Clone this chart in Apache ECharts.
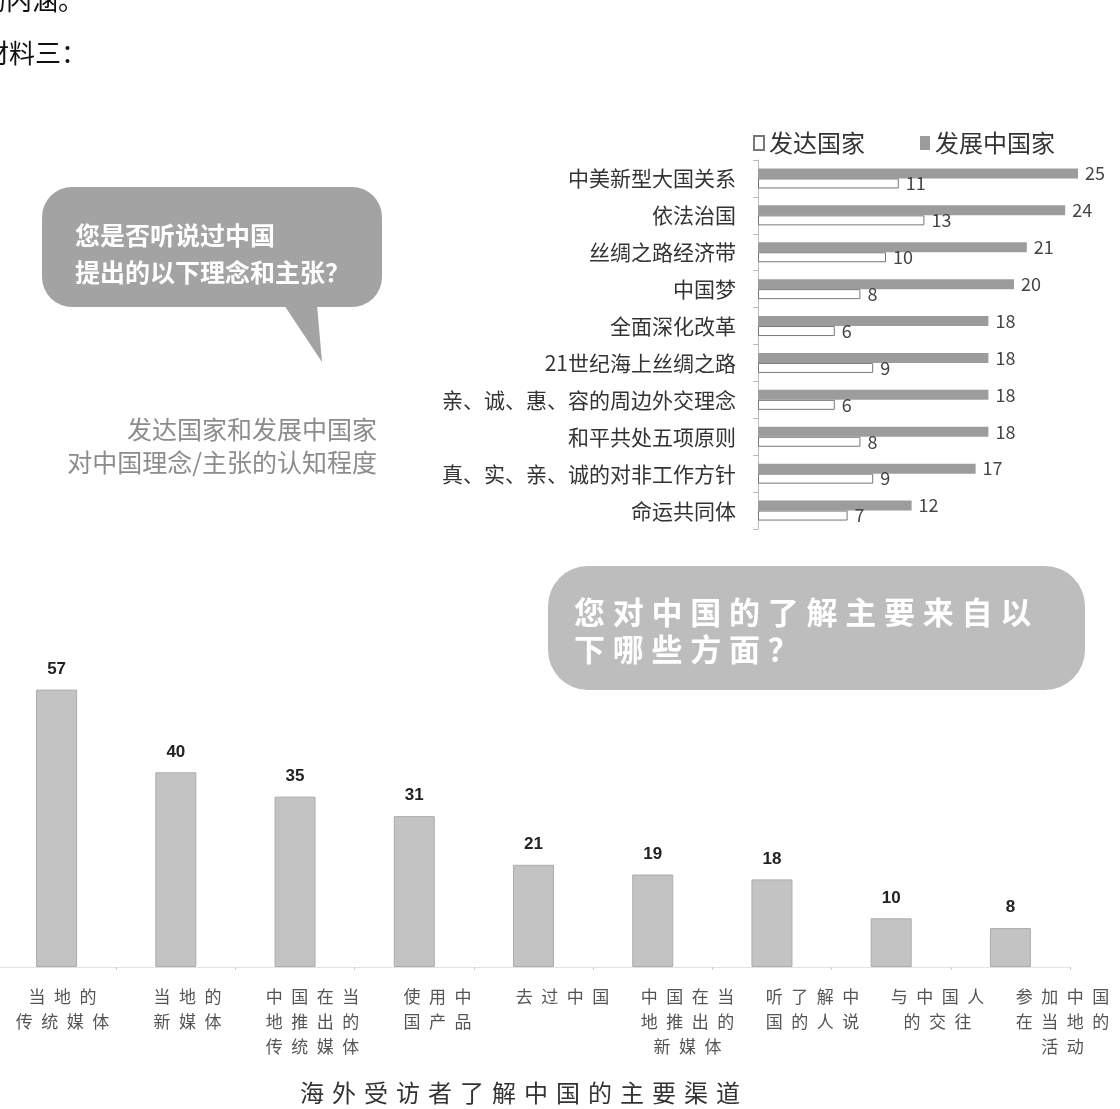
<!DOCTYPE html>
<html>
<head>
<meta charset="utf-8">
<script src="https://cdn.jsdelivr.net/npm/echarts@6/dist/echarts.min.js"></script>
<style>
  html, body { margin: 0; padding: 0; background: #fff; }
  #chart { width: 1120px; height: 1109px; }
</style>
</head>
<body>
<div id="chart"></div>
<script>
// 上图：对中国理念/主张的认知程度
const ideaCats = ['中美新型大国关系', '依法治国', '丝绸之路经济带', '中国梦', '全面深化改革',
    '21世纪海上丝绸之路', '亲、诚、惠、容的周边外交理念', '和平共处五项原则',
    '真、实、亲、诚的对非工作方针', '命运共同体'];
const developed = [11, 13, 10, 8, 6, 9, 6, 8, 9, 7];
const developing = [25, 24, 21, 20, 18, 18, 18, 18, 17, 12];

// 下图：了解中国的主要渠道
const channelCats = ['当地的\n传统媒体', '当地的\n新媒体', '中国在当\n地推出的\n传统媒体', '使用中\n国产品',
    '去过中国', '中国在当\n地推出的\n新媒体', '听了解中\n国的人说', '与中国人\n的交往', '参加中国\n在当地的\n活动'];
const channelVals = [57, 40, 35, 31, 21, 19, 18, 10, 8];

const CJK = '"Noto Sans CJK SC", sans-serif';

// 字间距：在字符之间插入窄空格
const spaced = (s, sp) => s.split('\n').map(l => Array.from(l).join(sp)).join('\n');

const chart = echarts.init(document.getElementById('chart'));

const option = {
    animation: false,
    textStyle: { fontFamily: CJK },
    legend: {
        data: ['发达国家', '发展中国家'],
        left: 748,
        top: 126,
        icon: 'rect',
        itemWidth: 10,
        itemHeight: 14,
        itemGap: 55,
        textStyle: { fontSize: 24, color: '#333', fontFamily: CJK }
    },
    grid: [
        { left: 758, top: 160, width: 320, height: 369, outerBoundsMode: 'none' },
        { left: -3, top: 675, width: 1073, height: 292, outerBoundsMode: 'none' },
        { left: 0, top: 957, width: 1125, height: 10, outerBoundsMode: 'none' }
    ],
    xAxis: [
        { gridIndex: 0, type: 'value', min: 0, max: 25, show: false },
        {
            gridIndex: 1,
            type: 'category',
            data: channelCats,
            axisLine: { lineStyle: { color: '#ddd', type: 'dotted' } },
            axisTick: { show: true, length: 3, lineStyle: { color: '#ccc' } },
            axisLabel: { show: false }
        },
        {
            gridIndex: 2,
            type: 'category',
            data: channelCats,
            axisLine: { show: false },
            axisTick: { show: false },
            axisLabel: {
                margin: 17,
                fontSize: 17,
                lineHeight: 25,
                color: '#555',
                fontFamily: CJK,
                formatter: v => spaced(v, '\u2002')
            }
        }
    ],
    yAxis: [
        {
            gridIndex: 0,
            type: 'category',
            inverse: true,
            data: ideaCats,
            axisLine: { lineStyle: { color: '#bbb' } },
            axisTick: { show: true, length: 5, lineStyle: { color: '#bbb' } },
            axisLabel: { fontSize: 21, color: '#333', margin: 22, fontFamily: CJK }
        },
        { gridIndex: 1, type: 'value', min: 0, max: 60, show: false },
        { gridIndex: 2, type: 'value', show: false }
    ],
    series: [
        {
            name: '发展中国家',
            type: 'bar',
            xAxisIndex: 0,
            yAxisIndex: 0,
            data: developing,
            barWidth: 10,
            barGap: '0%',
            itemStyle: { color: '#9c9c9c' },
            label: { show: true, position: 'right', distance: 7, fontSize: 18, color: '#444' }
        },
        {
            name: '发达国家',
            type: 'bar',
            xAxisIndex: 0,
            yAxisIndex: 0,
            data: developed,
            barWidth: 10,
            barGap: '0%',
            itemStyle: { color: '#fff', borderColor: '#777', borderWidth: 1 },
            label: { show: true, position: 'right', distance: 7, fontSize: 18, color: '#444' }
        },
        {
            name: '渠道',
            type: 'bar',
            xAxisIndex: 1,
            yAxisIndex: 1,
            data: channelVals,
            barWidth: 41,
            itemStyle: { color: '#c3c3c3', borderColor: '#ababab', borderWidth: 1 },
            label: {
                show: true,
                position: 'top',
                distance: 12,
                fontSize: 17,
                fontWeight: 'bold',
                color: '#222',
                fontFamily: '"Liberation Sans", Arial, sans-serif'
            }
        }
    ],
    graphic: [
        // 页面上的正文
        {
            type: 'text', x: -20, y: 0,
            style: { text: '的内涵。', font: '26px ' + CJK, fill: '#111', verticalAlign: 'middle' }
        },
        {
            type: 'text', x: -17, y: 53,
            style: { text: '材料三：', font: '26px ' + CJK, fill: '#111', verticalAlign: 'middle' }
        },
        // 气泡一
        {
            type: 'rect',
            shape: { x: 42, y: 187, width: 340, height: 120, r: 30 },
            style: { fill: '#a3a3a3' }
        },
        {
            type: 'polygon',
            shape: { points: [[284, 305], [317, 305], [322, 362]] },
            style: { fill: '#a3a3a3' }
        },
        {
            type: 'text', x: 75, y: 217,
            style: {
                text: '您是否听说过中国\n提出的以下理念和主张？',
                font: 'bold 25px ' + CJK, lineHeight: 37, fill: '#fff', verticalAlign: 'top'
            }
        },
        {
            type: 'text', x: 377, y: 413,
            style: {
                text: '发达国家和发展中国家\n对中国理念/主张的认知程度',
                font: '25px ' + CJK, lineHeight: 33, fill: '#8c8c8c', align: 'right', verticalAlign: 'top'
            }
        },
        // 气泡二
        {
            type: 'rect',
            shape: { x: 548, y: 566, width: 537, height: 124, r: 40 },
            style: { fill: '#bdbdbd' }
        },
        {
            type: 'text', x: 574, y: 594,
            style: {
                text: spaced('您对中国的了解主要来自以\n下哪些方面？', '\u2005'),
                font: 'bold 31px ' + CJK, lineHeight: 37, fill: '#fff', verticalAlign: 'top'
            }
        },
        // 下图标题
        {
            type: 'text', x: 520, y: 1093,
            style: {
                text: spaced('海外受访者了解中国的主要渠道', '\u2004'),
                font: '24px ' + CJK, fill: '#333', align: 'center', verticalAlign: 'middle'
            }
        }
    ]
};

chart.setOption(option);
</script>
</body>
</html>
